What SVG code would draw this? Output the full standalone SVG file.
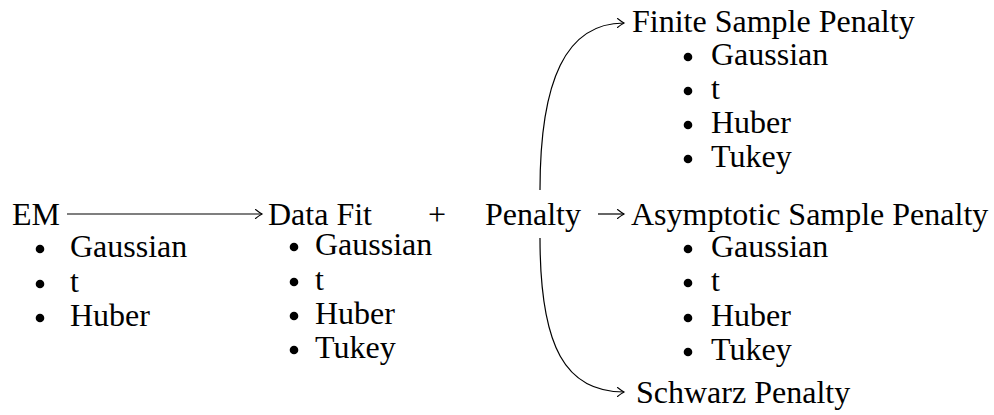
<svg xmlns="http://www.w3.org/2000/svg" width="994" height="415" viewBox="0 0 994 415">
<defs>
<marker id="arr" viewBox="-8 -6 10 12" markerWidth="10" markerHeight="12" refX="0" refY="0" orient="auto" markerUnits="userSpaceOnUse">
<path d="M -6.5 -4.5 Q -2 -1 0 0 Q -2 1 -6.5 4.5" fill="none" stroke="#000" stroke-width="1.1" stroke-linecap="round"/>
</marker>
<style>
text{font-family:"Liberation Serif","Times New Roman",serif;font-size:32px;fill:#000}
.b{fill:#000}
.c{fill:none;stroke:#000;stroke-width:1.2;marker-end:url(#arr)}
</style>
</defs>
<rect width="994" height="415" fill="#fff"/>
<g id="em">
<text x="12" y="225">EM</text>
<circle class="b" cx="40" cy="249" r="4.3"/><text x="70" y="257">Gaussian</text>
<circle class="b" cx="40" cy="284" r="4.3"/><text x="70" y="292">t</text>
<circle class="b" cx="40" cy="318" r="4.3"/><text x="70" y="326">Huber</text>
</g>
<g id="datafit">
<text x="268" y="225">Data Fit</text>
<circle class="b" cx="294" cy="247" r="4.3"/><text x="315" y="255">Gaussian</text>
<circle class="b" cx="294" cy="282" r="4.3"/><text x="315" y="290">t</text>
<circle class="b" cx="294" cy="316" r="4.3"/><text x="315" y="324">Huber</text>
<circle class="b" cx="294" cy="350" r="4.3"/><text x="315" y="358">Tukey</text>
</g>
<g id="plus"><text x="428" y="225">+</text></g>
<g id="penalty"><text x="485" y="225">Penalty</text></g>
<g id="finite">
<text x="632" y="32">Finite Sample Penalty</text>
<circle class="b" cx="688" cy="57" r="4.3"/><text x="711" y="65">Gaussian</text>
<circle class="b" cx="688" cy="91" r="4.3"/><text x="711" y="99">t</text>
<circle class="b" cx="688" cy="125" r="4.3"/><text x="711" y="133">Huber</text>
<circle class="b" cx="688" cy="159" r="4.3"/><text x="711" y="167">Tukey</text>
</g>
<g id="asymptotic">
<text x="631" y="225">Asymptotic Sample Penalty</text>
<circle class="b" cx="688" cy="249" r="4.3"/><text x="711" y="257">Gaussian</text>
<circle class="b" cx="688" cy="283" r="4.3"/><text x="711" y="291">t</text>
<circle class="b" cx="688" cy="318" r="4.3"/><text x="711" y="326">Huber</text>
<circle class="b" cx="688" cy="352" r="4.3"/><text x="711" y="360">Tukey</text>
</g>
<g id="schwarz"><text x="636" y="403">Schwarz Penalty</text></g>
<g id="connectors">
<path class="c" d="M 67 214 L 262 214"/>
<path class="c" d="M 598 214 L 624 214"/>
<path class="c" d="M 540 190 C 540 80 566 23 624 23"/>
<path class="c" d="M 540 238 C 540 348 566 392 624 392"/>
</g>
</svg>
